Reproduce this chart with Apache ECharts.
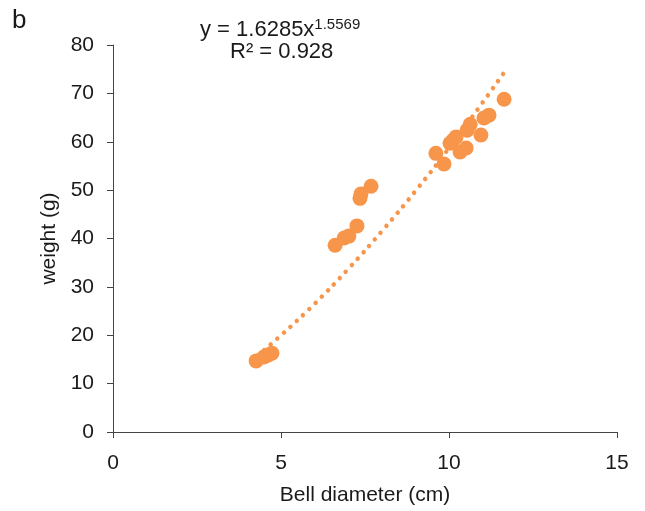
<!DOCTYPE html>
<html><head><meta charset="utf-8">
<script src="https://cdn.jsdelivr.net/npm/echarts@6/dist/echarts.min.js"></script>
<style>html,body{margin:0;padding:0;background:#fff}#c{width:645px;height:511px}</style>
</head><body><div id="c"></div>
<script>
// Bell diameter (cm)
var diameter = [4.26,4.49,4.61,4.73,6.61,6.88,7.02,7.26,7.35,7.38,7.68,9.61,9.85,10.03,10.12,10.21,10.33,10.51,10.54,10.63,10.95,11.04,11.19,11.64];
// Weight (g)
var weight   = [14.7,15.5,15.9,16.3,38.6,40.1,40.5,42.6,48.3,49.2,50.8,57.6,55.4,59.7,60.3,61.0,57.9,58.7,62.4,63.6,61.4,64.9,65.5,68.8];
// Power trendline points
var trendX = [4.3,5,6,7,8,9,10,11,11.7];
var trendY = [15.8,20.0,26.5,33.7,41.5,49.8,58.7,68.1,74.9];
var xTicks = [0,5,10,15];
var yTicks = [0,10,20,30,40,50,60,70,80];

var FONT = 'Liberation Sans, Arial, sans-serif';
var ORANGE = '#F7964A';
var TXT = '#1a1a1a';
var chart = echarts.init(document.getElementById('c'));
var pts = diameter.map(function(d,i){return [d, weight[i]];});
var trend = trendX.map(function(d,i){return [d, trendY[i]];});
chart.setOption({
  animation:false,
  grid:{left:113,right:28,top:45,bottom:79},
  title:[
    {text:'b', left:7, top:3, textStyle:{fontFamily:FONT,fontSize:26,fontWeight:'normal',color:TXT}},
    {text:'{a|y = 1.6285x}{s|1.5569}', left:195, top:10, textStyle:{fontWeight:'normal',rich:{
      a:{fontFamily:FONT,fontSize:22,fontWeight:'normal',color:TXT,lineHeight:26,verticalAlign:'bottom'},
      s:{fontFamily:FONT,fontSize:15,fontWeight:'normal',color:TXT,lineHeight:26,verticalAlign:'bottom',padding:[0,0,9,0]}}}},
    {text:'R² = 0.928', left:225, top:36, textStyle:{fontFamily:FONT,fontSize:22,fontWeight:'normal',color:TXT}}
  ],
  xAxis:{type:'value',min:0,max:15,interval:5,
    name:'Bell diameter (cm)',nameLocation:'middle',nameGap:53,
    nameTextStyle:{fontFamily:FONT,fontSize:21,color:TXT},
    axisLine:{lineStyle:{color:'#444',width:1}},
    axisTick:{show:true,length:6,lineStyle:{color:'#444'}},
    axisLabel:{fontFamily:FONT,fontSize:21,color:TXT,margin:21,
      formatter:function(v){return xTicks.indexOf(v)>=0?String(v):'';}},
    splitLine:{show:false}},
  yAxis:{type:'value',min:0,max:80,interval:10,
    name:'weight (g)',nameLocation:'middle',nameGap:50,nameRotate:90,
    nameTextStyle:{fontFamily:FONT,fontSize:21,color:TXT},
    axisLine:{show:true,lineStyle:{color:'#444',width:1}},
    axisTick:{show:true,length:6,lineStyle:{color:'#444'}},
    axisLabel:{fontFamily:FONT,fontSize:21,color:TXT,margin:19,
      formatter:function(v){return yTicks.indexOf(v)>=0?String(v):'';}},
    splitLine:{show:false}},
  series:[
    {type:'line',data:trend,smooth:true,symbol:'none',z:1,
      lineStyle:{color:ORANGE,width:4.5,type:[0.01,8.7],cap:'round'}},
    {type:'scatter',data:pts,symbol:'circle',symbolSize:15,z:2,
      itemStyle:{color:ORANGE,opacity:1}}
  ]
});
</script></body></html>
